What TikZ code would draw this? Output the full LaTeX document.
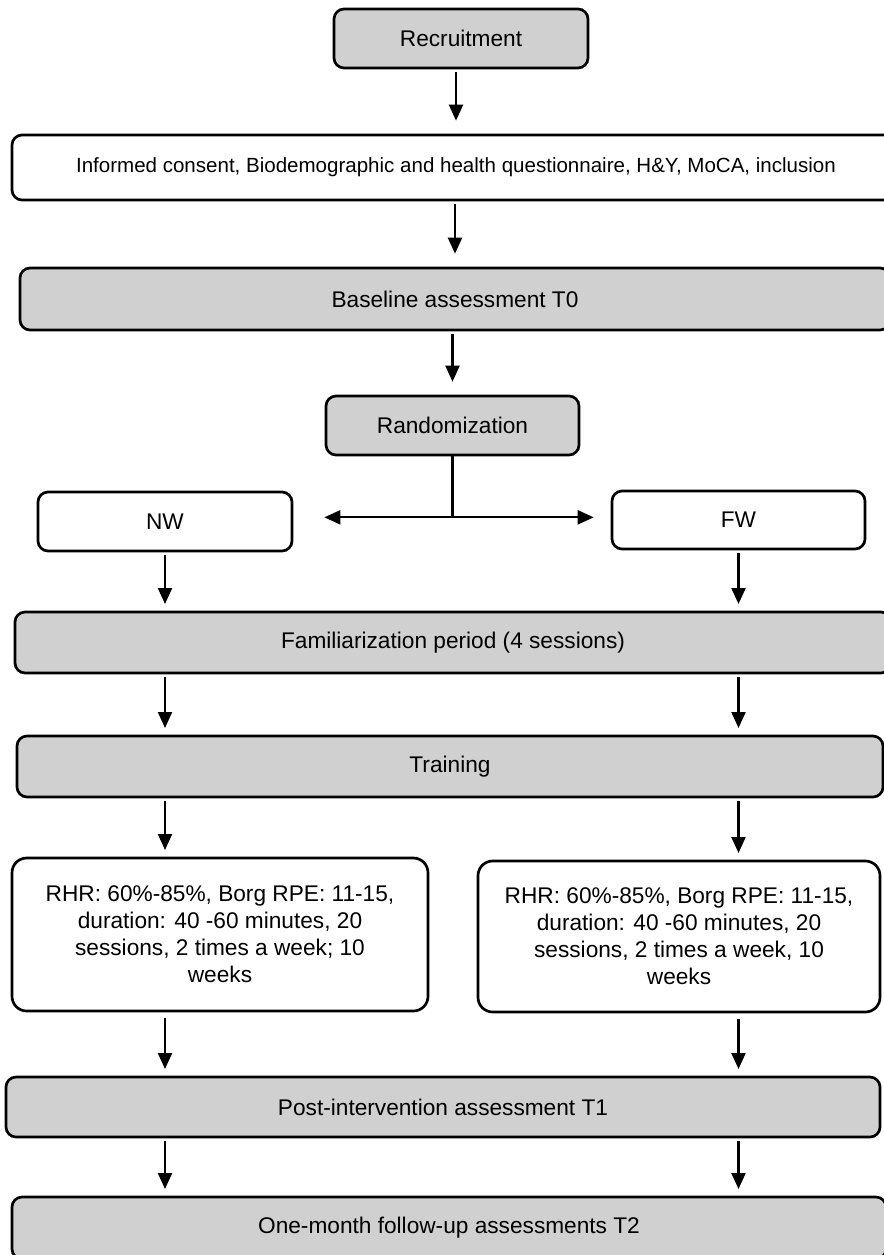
\documentclass[tikz,border=0pt]{standalone}
\usepackage{fontspec}
\setmainfont{Liberation Sans}
\usepackage{xcolor}
\definecolor{boxgray}{RGB}{208, 208, 208}
\usepackage{tikz}
\usetikzlibrary{positioning,calc,arrows.meta}

\begin{document}
\begin{tikzpicture}[x=0.75pt, y=-0.75pt,
    >={Triangle[length=12pt, width=10.5pt]},
    every node/.style={font=\fontsize{17}{20.25}\selectfont, align=center},
    graybox/.style={rectangle, rounded corners=7.5pt, draw, line width=2pt, fill=boxgray, inner sep=2pt},
    whitebox/.style={rectangle, rounded corners=7.5pt, draw, line width=2pt, fill=white, inner sep=2pt},
    flow/.style={->, line width=1.6pt, shorten <=2.25pt, shorten >=5pt}]
    \useasboundingbox (0,0) rectangle (884,1255);

    % Enrolment
    \node[graybox, minimum width=190.5pt, minimum height=44.25pt] (rec) at (461,38.5) {Recruitment};
    \node[whitebox, minimum width=666pt, minimum height=48.75pt, font=\fontsize{15.4}{18}\selectfont, below=48.25pt of rec, xshift=-3.75pt] (info) {Informed consent, Biodemographic and health questionnaire, H\&Y, MoCA, inclusion};
    \node[graybox, minimum width=652.5pt, minimum height=46.5pt, below=49pt of info, xshift=-0.75pt] (base) {Baseline assessment T0};
    \node[graybox, minimum width=189.75pt, minimum height=44.25pt, below=47.5pt of base, xshift=-1.875pt] (rand) {Randomization};

    % Groups
    \node[whitebox, minimum width=190.5pt, minimum height=44.25pt, below=25.75pt of rand, xshift=-215.625pt] (nw) {NW};
    \node[whitebox, minimum width=189.75pt, minimum height=43.5pt, below=25pt of rand, xshift=214.5pt] (fw) {FW};

    % Intervention
    \node[graybox, minimum width=657pt, minimum height=45.75pt, below=43.75pt of nw, xshift=216pt] (fam) {Familiarization period (4 sessions)};
    \node[graybox, minimum width=649.5pt, minimum height=45.75pt, below=45.25pt of fam, xshift=-2.25pt] (train) {Training};
    \node[whitebox, rounded corners=11pt, minimum width=312pt, minimum height=114.75pt, below=43.75pt of train, xshift=-172.5pt] (doseNW) {RHR: 60\%-85\%, Borg RPE: 11-15,\\duration: 40 -60 minutes, 20\\sessions, 2 times a week; 10\\weeks};
    \node[whitebox, rounded corners=11pt, minimum width=301.5pt, minimum height=113.25pt, below=46pt of train, xshift=171.75pt] (doseFW) {RHR: 60\%-85\%, Borg RPE: 11-15,\\duration: 40 -60 minutes, 20\\sessions, 2 times a week, 10\\weeks};

    % Assessments
    \node[graybox, minimum width=655.5pt, minimum height=45pt, below=47.5pt of doseNW, xshift=167.25pt] (post) {Post-intervention assessment T1};
    \node[graybox, minimum width=655.5pt, minimum height=46.5pt, below=43pt of post, xshift=4.5pt] (follow) {One-month follow-up assessments T2};

    % Main flow
    \draw[flow, shorten >=9.75pt] (info.north |- rec.south) -- (info.north);
    \draw[flow, shorten >=9.75pt] (base.north |- info.south) -- (base.north);
    \draw[flow, shorten >=9.75pt] (rand.north |- base.south) -- (rand.north);

    % Allocation
    \coordinate (split) at ($(rand.south)+(0,61)$);
    \coordinate (toNW) at ($(split -| nw.east)+(31,0)$);
    \coordinate (toFW) at ($(split -| fw.west)+(-17,0)$);
    \draw[line width=1.6pt] (rand.south) -- (split);
    \draw[<->, line width=1.6pt] (toNW) -- (toFW);

    % Group arms
    \draw[flow] (nw.south) -- (nw.south |- fam.north);
    \draw[flow] (fw.south) -- (fw.south |- fam.north);
    \draw[flow] (nw.south |- fam.south) -- (nw.south |- train.north);
    \draw[flow] (fw.south |- fam.south) -- (fw.south |- train.north);
    \draw[flow] (nw.south |- train.south) -- (nw.south |- doseNW.north);
    \draw[flow] (fw.south |- train.south) -- (fw.south |- doseFW.north);
    \draw[flow, shorten <=4.5pt] (nw.south |- doseNW.south) -- (nw.south |- post.north);
    \draw[flow, shorten <=4.5pt] (fw.south |- doseFW.south) -- (fw.south |- post.north);
    \draw[flow] (nw.south |- post.south) -- (nw.south |- follow.north);
    \draw[flow] (fw.south |- post.south) -- (fw.south |- follow.north);
\end{tikzpicture}
\end{document}
